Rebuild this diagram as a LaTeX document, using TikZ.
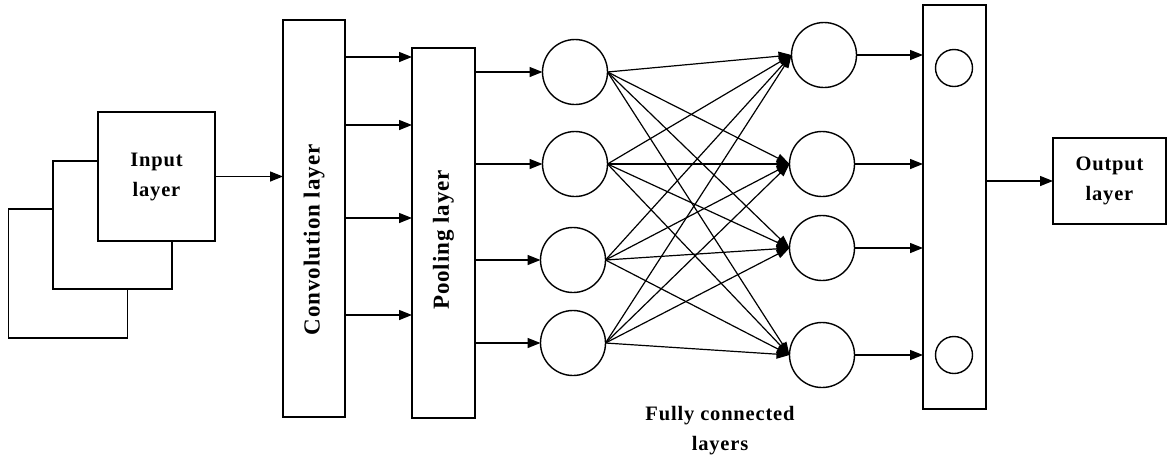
\documentclass[tikz,border=0pt]{standalone}
\usepackage{fontspec}
\setmainfont{Liberation Serif}[LetterSpace=4]
\usetikzlibrary{arrows.meta}
\begin{document}
\begin{tikzpicture}[x=1pt,y=-1pt,
  box/.style={draw,line width=1.5pt,inner sep=0pt,outer sep=0pt,fill=white},
  neuron/.style={draw,circle,line width=1.4pt,inner sep=0pt,outer sep=0pt,minimum size=65pt},
  small/.style={draw,circle,line width=1.4pt,inner sep=0pt,outer sep=0pt,minimum size=37pt},
  lbl/.style={font=\fontsize{20.5}{30}\selectfont\bfseries,align=center},
  vlbl/.style={font=\fontsize{23}{30}\selectfont\bfseries,rotate=90,inner sep=0pt},
  arr/.style={line width=1.4pt,-{Triangle[length=13pt,width=10pt]}},
  link/.style={line width=1.2pt,-{Triangle[length=13pt,width=9pt]}}]
\useasboundingbox (0,0) rectangle (1167,459);

% stacked input maps
\node[box,minimum width=119pt,minimum height=129pt] (in3) at (68,273.5) {};
\node[box,minimum width=119pt,minimum height=128pt] (in2) at (112.5,225) {};
\node[box,minimum width=117pt,minimum height=129pt,lbl] (in1) at (156.5,176.5) {Input\\layer};

% convolution and pooling columns
\node[box,minimum width=62pt,minimum height=397pt] (conv) at (314,218.5) {};
\node[vlbl] (convtxt) at (314,240) {Convolution layer};
\node[box,minimum width=63pt,minimum height=370pt] (pool) at (443.5,233) {};
\node[vlbl] (pooltxt) at (443.5,240) {Pooling layer};

% fully connected neurons
\node[neuron] (a1) at (575,72) {};
\node[neuron] (a2) at (575,164) {};
\node[neuron] (a3) at (573,260) {};
\node[neuron] (a4) at (573,343) {};
\node[neuron] (b1) at (824,55) {};
\node[neuron] (b2) at (822,164) {};
\node[neuron] (b3) at (822,248) {};
\node[neuron] (b4) at (822,355) {};

% final column and output
\node[box,minimum width=63pt,minimum height=404pt] (fc) at (954.5,207) {};
\node[small] (s1) at (954,68) {};
\node[small] (s2) at (954,355) {};
\node[box,minimum width=113pt,minimum height=86pt,lbl] (out) at (1109.5,181) {Output\\layer};

\node[lbl] (fcl) at (720,431) {Fully connected\\layers};

% input to convolution
\draw[arr] (in1.east) -- (conv.west |- in1.east);

% convolution to pooling
\foreach \yy in {57,125,218,315}
  \draw[arr] (conv.east |- 0,\yy) -- (pool.west |- 0,\yy);

% pooling to first neurons
\foreach \n in {a1,a2,a3,a4}
  \draw[arr] (pool.east |- \n.west) -- (\n.west);

% full connections
\foreach \s in {a1,a2,a3,a4}
  \foreach \t in {b1,b2,b3,b4}
    \draw[link] (\s.east) -- (\t.west);

% second neurons to final column
\foreach \n in {b1,b2,b3,b4}
  \draw[arr] (\n.east) -- (fc.west |- \n.east);

% final column to output
\draw[arr] (fc.east |- out.west) -- (out.west);
\end{tikzpicture}
\end{document}
